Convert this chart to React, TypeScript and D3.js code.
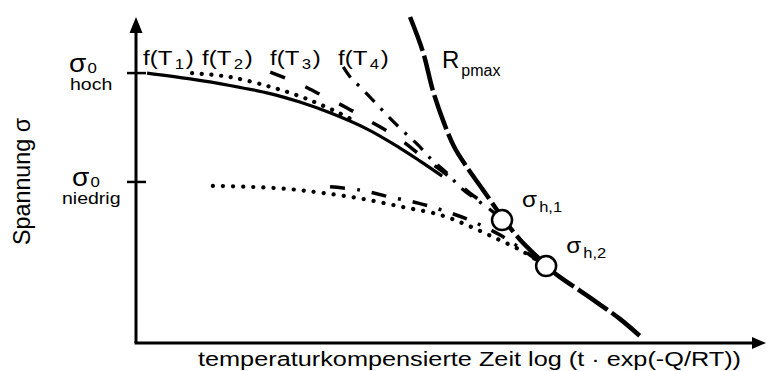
import React from 'react';
import * as d3 from 'd3';

const W = 766;
const H = 371;

// Relative units: compensated log time (x) and stress (y), both 0..100
const timeDomain: [number, number] = [0, 100];
const stressDomain: [number, number] = [0, 100];

// Starting stress levels marked on the stress axis
const sigma0High = 82.8;
const sigma0Low = 49.4;

// Creep-rupture curves at the high starting stress
const f1High: [number, number][] = [
  [1.75, 82.8], [8.6, 81.0], [14.9, 79.0], [21.3, 76.5], [26.0, 73.9],
  [30.8, 70.6], [36.7, 65.6], [41.9, 59.8], [45.1, 55.8], [48.6, 51.2],
];
const f2High: [number, number][] = [
  [8.9, 82.8], [14.9, 81.6], [21.3, 78.6], [26.0, 75.7], [29.2, 73.2],
  [32.4, 70.4], [34.8, 68.0],
];
const f3High: [number, number][] = [
  [21.3, 83.1], [26.0, 79.4], [29.7, 75.8], [33.5, 72.1], [37.1, 68.1],
  [41.4, 63.2], [45.1, 57.7], [49.0, 52.1], [53.0, 46.0], [57.0, 40.2], [58.1, 37.7],
];
const f4High: [number, number][] = [
  [32.9, 84.7], [34.0, 81.6], [35.6, 78.5], [37.9, 73.9], [40.0, 69.6],
  [42.4, 65.0], [44.8, 60.7], [47.0, 56.1], [49.4, 52.1], [51.4, 47.9],
  [54.1, 43.9], [56.5, 40.5], [58.1, 37.7],
];

// Curves at the low starting stress
const f2Low: [number, number][] = [
  [12.2, 48.2], [18.1, 47.9], [24.4, 47.2], [29.7, 46.0], [36.0, 44.2],
  [42.4, 41.7], [48.3, 39.3], [52.5, 36.2], [56.7, 32.5], [61.0, 28.5], [64.1, 24.8],
];
const f34Low: [number, number][] = [
  [30.8, 47.9], [35.6, 46.9], [40.3, 44.8], [44.8, 42.9], [49.0, 40.5],
  [53.3, 37.4], [57.8, 33.1], [61.0, 29.1], [64.1, 24.8],
];

// Upper limit curve (maximum rupture strength)
const rpMax: [number, number][] = [
  [43.5, 100], [45.6, 89.0], [47.1, 77.6], [49.0, 66.9], [50.6, 59.8],
  [52.5, 54.0], [55.1, 46.9], [57.3, 40.8], [58.3, 38.0], [61.0, 31.6],
  [63.7, 26.4], [65.1, 23.6], [67.3, 20.2], [70.5, 16.0], [73.7, 11.7],
  [76.8, 7.4], [80.2, 1.8],
];

// Intersection points with the limit curve
const sigmaH: { name: string; sub: string; t: number; s: number }[] = [
  { name: 'σ', sub: 'h,1', t: 58.1, s: 37.7 },
  { name: 'σ', sub: 'h,2', t: 65.1, s: 23.6 },
];

const curveLabels = ['1', '2', '3', '4'];
const curveLabelX = [143, 202, 270, 338];

const FONT = "'Liberation Sans', Arial, Helvetica, sans-serif";

export default function App() {
  const x = d3.scaleLinear().domain(timeDomain).range([136, 766]);
  const y = d3.scaleLinear().domain(stressDomain).range([343, 17]);

  const line = d3
    .line<[number, number]>()
    .x((d) => x(d[0]))
    .y((d) => y(d[1]))
    .curve(d3.curveCatmullRom.alpha(0.5));

  const x0 = x(0);
  const y0 = y(0);
  const xEnd = x(100);
  const yTop = y(100);

  const curves = [
    { data: f1High, width: 3.2, dash: undefined, cap: 'butt' },
    { data: f2High, width: 4.2, dash: '0.1,9.6', cap: 'round' },
    { data: f3High, width: 3.5, dash: '16,22', cap: 'butt' },
    { data: f4High, width: 3.2, dash: '13,9,3,9', cap: 'butt' },
    { data: f2Low, width: 4.2, dash: '0.1,10', cap: 'round' },
    { data: f34Low, width: 3.5, dash: '15,12,3,12', cap: 'butt' },
    { data: rpMax, width: 4.5, dash: '36,5', cap: 'butt' },
  ];

  return (
    <svg
      width={W}
      height={H}
      style={{ position: 'absolute', left: 0, top: 0, background: '#fff' }}
      fontFamily={FONT}
    >
      <rect width={W} height={H} fill="#fff" />

      {/* axes with arrow heads */}
      <line x1={x0} y1={y0} x2={x0} y2={yTop + 14} stroke="#000" strokeWidth={3} />
      <path d={`M${x0},${yTop} L${x0 - 6.5},${yTop + 16} L${x0 + 6.5},${yTop + 16} Z`} fill="#000" />
      <line x1={x0 - 1.5} y1={y0} x2={xEnd - 12} y2={y0} stroke="#000" strokeWidth={3} />
      <path d={`M${xEnd},${y0} L${xEnd - 14},${y0 - 6} L${xEnd - 14},${y0 + 6} Z`} fill="#000" />

      {/* stress level ticks */}
      {[sigma0High, sigma0Low].map((s, i) => (
        <line key={i} x1={x0 - 9} x2={x0 + 10} y1={y(s)} y2={y(s)} stroke="#000" strokeWidth={2.5} />
      ))}

      {/* curves */}
      {curves.map((c, i) => (
        <path
          key={i}
          d={line(c.data) ?? ''}
          fill="none"
          stroke="#000"
          strokeWidth={c.width}
          strokeDasharray={c.dash}
          strokeLinecap={c.cap as any}
        />
      ))}

      {/* intersection markers */}
      {sigmaH.map((p, i) => (
        <circle key={i} cx={x(p.t)} cy={y(p.s)} r={10} fill="#fff" stroke="#000" strokeWidth={2.5} />
      ))}
      {sigmaH.map((p, i) => (
        <g key={i} transform={`translate(${x(p.t) + 20},${y(p.s) - 13}) scale(1.1,1)`}>
          <text fontSize={22}>
            {p.name}
            <tspan fontSize={15} dx={2} dy={5}>{p.sub}</tspan>
          </text>
        </g>
      ))}

      {/* curve labels */}
      {curveLabels.map((n, i) => (
        <g key={n} transform={`translate(${curveLabelX[i]},65) scale(1.2,1)`}>
          <text fontSize={20}>
            f(T
            <tspan fontSize={14} dx={2} dy={4}>{n}</tspan>
            <tspan dx={1.5} dy={-4}>)</tspan>
          </text>
        </g>
      ))}

      {/* limit curve label */}
      <g transform="translate(442,68)">
        <text fontSize={24}>
          R
          <tspan fontSize={16} dx={2} dy={8}>pmax</tspan>
        </text>
      </g>

      {/* stress level labels */}
      <g transform={`translate(69,${y(sigma0High) - 1}) scale(1.12,1)`}>
        <text fontSize={25}>
          σ<tspan fontSize={15} dx={1} dy={1}>0</tspan>
        </text>
      </g>
      <g transform={`translate(70,${y(sigma0High) + 17}) scale(1.22,1)`}>
        <text fontSize={16}>hoch</text>
      </g>
      <g transform={`translate(72,${y(sigma0Low) + 4}) scale(1.12,1)`}>
        <text fontSize={25}>
          σ<tspan fontSize={15} dx={1} dy={1}>0</tspan>
        </text>
      </g>
      <g transform={`translate(62,${y(sigma0Low) + 22}) scale(1.22,1)`}>
        <text fontSize={16}>niedrig</text>
      </g>

      {/* axis titles */}
      <text
        x={198}
        y={366}
        fontSize={20}
        textLength={543}
        lengthAdjust="spacingAndGlyphs"
      >
        temperaturkompensierte Zeit log (t · exp(-Q/RT))
      </text>
      <g transform="translate(30,181.5) scale(1.15,1) rotate(-90)">
        <text fontSize={21} textAnchor="middle" textLength={127} lengthAdjust="spacingAndGlyphs">
          Spannung σ
        </text>
      </g>
    </svg>
  );
}
